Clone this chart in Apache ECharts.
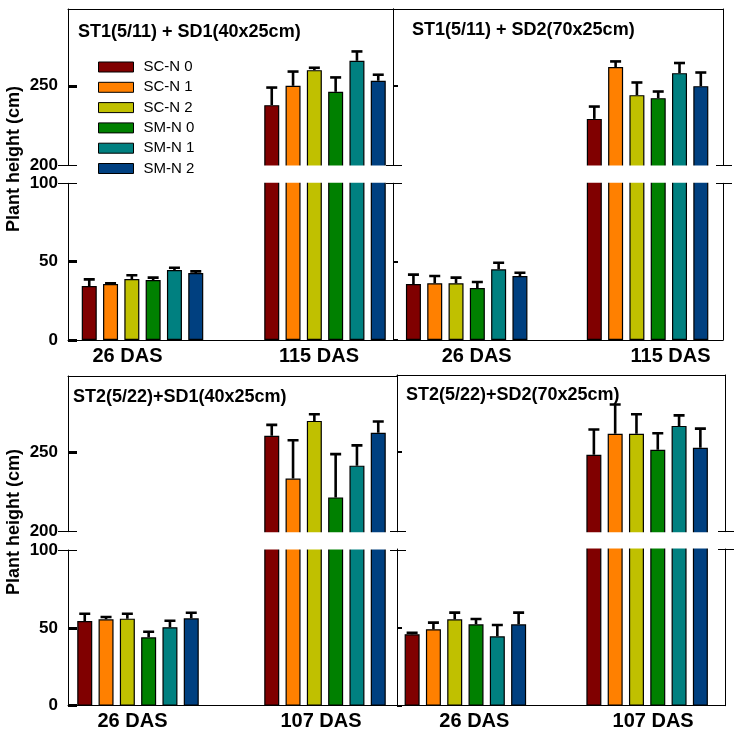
<!DOCTYPE html>
<html>
<head>
<meta charset="utf-8">
<script src="https://cdn.jsdelivr.net/npm/echarts@6/dist/echarts.min.js"></script>
<style>
html,body{margin:0;padding:0;background:#fff;}
#chart{width:738px;height:737px;}
</style>
</head>
<body>
<div id="chart"></div>
<script>
// ---------- data ----------
const seriesNames = ['SC-N 0', 'SC-N 1', 'SC-N 2', 'SM-N 0', 'SM-N 1', 'SM-N 2'];
const panelTitles = ['ST1(5/11) + SD1(40x25cm)', 'ST1(5/11) + SD2(70x25cm)', 'ST2(5/22)+SD1(40x25cm)', 'ST2(5/22)+SD2(70x25cm)'];
const categoriesST1 = ['26 DAS', '115 DAS'];
const categoriesST2 = ['26 DAS', '107 DAS'];
const upperTicks = [200, 250];
const lowerTicks = [0, 50, 100];
const yTitle = 'Plant height (cm)';

const st1sd1Early    = [34.5, 35.7, 38.9, 38.3, 44.7, 42.8];
const st1sd1EarlyErr = [4.2, 0.5, 2.4, 1.5, 1.4, 1.0];
const st1sd1Late     = [237.8, 250.0, 259.9, 246.2, 265.8, 253.2];
const st1sd1LateErr  = [11.1, 9.0, 1.5, 9.1, 5.9, 3.8];

const st1sd2Early    = [35.7, 36.2, 36.2, 33.2, 45.1, 40.8];
const st1sd2EarlyErr = [6.0, 4.6, 3.6, 3.8, 4.2, 2.1];
const st1sd2Late     = [229.1, 261.8, 244.1, 242.2, 258.0, 249.8];
const st1sd2LateErr  = [7.8, 3.6, 8.0, 4.2, 6.4, 8.6];

const st2sd1Early    = [54.4, 55.5, 55.9, 43.9, 50.4, 56.1];
const st2sd1EarlyErr = [4.7, 1.5, 3.2, 3.6, 4.2, 3.6];
const st2sd1Late     = [260.7, 233.6, 270.1, 221.7, 241.8, 262.6];
const st2sd1LateErr  = [6.9, 24.3, 4.2, 27.4, 12.8, 7.1];

const st2sd2Early    = [45.6, 48.8, 55.1, 51.9, 44.3, 51.9];
const st2sd2EarlyErr = [1.0, 4.2, 4.3, 3.4, 7.2, 7.5];
const st2sd2Late     = [248.4, 261.5, 261.5, 251.5, 266.5, 252.7];
const st2sd2LateErr  = [15.8, 18.5, 12.3, 10.4, 6.6, 12.1];

// ---------- styles / layout ----------
const colors = ['#800000', '#FF8000', '#C0C000', '#008000', '#008080', '#004080'];
const FONT = '"Liberation Sans", Arial, sans-serif';
const UPPER_MAX = 298.5;
const BAR_W = 15, BAR_GAP = 0.42;
const BAR_STEP = BAR_W * (1 + BAR_GAP);
const EXT = 3; // px that bar grids reach into the break gap (hidden under the gap mask)

const panelData = [
  {cats: categoriesST1, early: st1sd1Early, earlyErr: st1sd1EarlyErr, late: st1sd1Late, lateErr: st1sd1LateErr},
  {cats: categoriesST1, early: st1sd2Early, earlyErr: st1sd2EarlyErr, late: st1sd2Late, lateErr: st1sd2LateErr},
  {cats: categoriesST2, early: st2sd1Early, earlyErr: st2sd1EarlyErr, late: st2sd1Late, lateErr: st2sd1LateErr},
  {cats: categoriesST2, early: st2sd2Early, earlyErr: st2sd2EarlyErr, late: st2sd2Late, lateErr: st2sd2LateErr}
];
const layout = [
  {L: 68,  R: 393, top: 9,   uBot: 165,   lTop: 183.3, bot: 340,   g1: 74.5, g2: 257,   shift: [-15, -6],  tl: 78,  tt: 23.5, col: 0},
  {L: 393, R: 723, top: 9,   uBot: 165,   lTop: 183.3, bot: 340,   g1: 75,   g2: 258.5, shift: [10, 23],   tl: 412, tt: 21.5, col: 1},
  {L: 68,  R: 397, top: 376, uBot: 531.7, lTop: 550,   bot: 705.7, g1: 70,   g2: 257,   shift: [-5.5, -4], tl: 73,  tt: 388.5, col: 0},
  {L: 397, R: 725, top: 375, uBot: 531.7, lTop: 549,   bot: 705.7, g1: 71,   g2: 258,   shift: [9, 6],     tl: 406, tt: 386, col: 1}
];

function renderErr(params, api) {
  const v = api.value(1), e = api.value(2), s = api.value(3);
  const base = api.coord([api.value(0), v]);
  const tip = api.coord([api.value(0), v + e]);
  const x = base[0] + (s - 2.5) * BAR_STEP;
  const st = {stroke: '#000', lineWidth: 2.6};
  return {type: 'group', children: [
    {type: 'line', shape: {x1: x, y1: base[1], x2: x, y2: tip[1]}, style: st},
    {type: 'line', shape: {x1: x - 5.5, y1: tip[1], x2: x + 5.5, y2: tip[1]}, style: st}
  ]};
}

const option = {
  animation: false,
  backgroundColor: '#fff',
  title: [], grid: [], xAxis: [], yAxis: [], series: [],
  legend: {
    data: seriesNames, orient: 'vertical', left: 98, top: 59.5, padding: 0, z: 20,
    itemWidth: 35, itemHeight: 10, itemGap: 5.3, icon: 'rect', selectedMode: false,
    itemStyle: {borderColor: '#000', borderWidth: 1},
    textStyle: {fontFamily: FONT, fontSize: 15, color: '#000', padding: [0, 0, 0, 5]}
  },
  graphic: []
};

const lineStyle = {color: '#000', width: 1};

layout.forEach((pl, p) => {
  const d = panelData[p];
  option.title.push({text: panelTitles[p], left: pl.tl, top: pl.tt, padding: 0, z: 20,
    textStyle: {fontFamily: FONT, fontSize: 18, fontWeight: 'bold', color: '#000'}});
  // white mask over the break gap (hides clipped bar edges)
  option.graphic.push({type: 'rect', z: 5, silent: true,
    shape: {x: pl.L + 1, y: pl.uBot + 0.5, width: pl.R - pl.L - 2, height: pl.lTop - pl.uBot - 1},
    style: {fill: '#fff'}});
  [0, 1].forEach(seg => {
    const upper = seg === 0;
    const top = upper ? pl.top : pl.lTop;
    const h = (upper ? pl.uBot : pl.bot) - top;
    const ymin = upper ? 200 : 0, ymax = upper ? UPPER_MAX : 100;

    // frame grid
    const fg = option.grid.length;
    option.grid.push({left: pl.L, top: top, width: pl.R - pl.L, height: h});
    option.xAxis.push({gridIndex: fg, type: 'value', min: 0, max: 1, position: upper ? 'top' : 'bottom', z: 10,
      axisLine: {show: true, onZero: false, lineStyle}, axisTick: {show: false}, axisLabel: {show: false}, splitLine: {show: false}});
    // main left axis
    option.yAxis.push({gridIndex: fg, type: 'value', min: ymin, max: ymax, interval: 50, position: 'left', z: 10,
      axisLine: {show: true, lineStyle},
      axisTick: {show: true, inside: true, length: pl.col === 0 ? 9 : 5,
        lineStyle: {color: '#000', width: pl.col === 0 ? 3 : 2}, customValues: upper ? [250] : [0, 50]},
      axisLabel: {show: pl.col === 0, customValues: upper ? upperTicks : lowerTicks, margin: 10,
        fontFamily: FONT, fontSize: 17, fontWeight: 'bold', color: '#000'},
      splitLine: {show: false}});
    // left break mark
    if (pl.col === 0) {
      option.yAxis.push({gridIndex: fg, type: 'value', min: ymin, max: ymax, position: 'left', offset: -9, z: 10,
        axisLine: {show: false}, axisLabel: {show: false}, splitLine: {show: false},
        axisTick: {show: true, length: 19, lineStyle: {color: '#000', width: 1}, customValues: [upper ? 200 : 100]}});
    }
    // right frame
    option.yAxis.push({gridIndex: fg, type: 'value', min: ymin, max: ymax, position: 'right', z: 10,
      axisLine: {show: true, lineStyle}, axisTick: {show: false}, axisLabel: {show: false}, splitLine: {show: false}});
    // right break mark
    option.yAxis.push({gridIndex: fg, type: 'value', min: ymin, max: ymax, position: 'right', offset: -7, z: 10,
      axisLine: {show: false}, axisLabel: {show: false}, splitLine: {show: false},
      axisTick: {show: true, length: 16, lineStyle: {color: '#000', width: 1}, customValues: [upper ? 200 : 100]}});

    // bar grid (reaches EXT px into the gap, scale unchanged)
    const cw = pl.g2 - pl.g1;
    const perPx = (ymax - ymin) / h;
    const bg = option.grid.length;
    option.grid.push({left: pl.L + pl.g1 - cw / 2, top: upper ? top : top - EXT, width: cw * 2, height: h + EXT});
    const pad = s => s >= 0 ? [0, 0, 0, 2 * s] : [0, -2 * s, 0, 0];
    const labStyle = {fontFamily: FONT, fontSize: 20, fontWeight: 'bold', color: '#000'};
    const bx = option.xAxis.length;
    option.xAxis.push({gridIndex: bg, type: 'category', data: d.cats,
      axisLine: {show: false}, axisTick: {show: false}, splitLine: {show: false},
      axisLabel: {show: !upper, margin: 6, interval: 0,
        formatter: (v, idx) => '{l' + idx + '|' + v + '}',
        rich: {l0: Object.assign({padding: pad(pl.shift[0])}, labStyle), l1: Object.assign({padding: pad(pl.shift[1])}, labStyle)},
        ...labStyle}});
    const by = option.yAxis.length;
    option.yAxis.push({gridIndex: bg, type: 'value', show: false, splitLine: {show: false},
      min: upper ? ymin - EXT * perPx : ymin, max: upper ? ymax : ymax + EXT * perPx});

    seriesNames.forEach((name, i) => {
      option.series.push({type: 'bar', name: name, xAxisIndex: bx, yAxisIndex: by,
        barWidth: BAR_W, barGap: (BAR_GAP * 100) + '%', clip: true,
        itemStyle: {color: colors[i], borderColor: '#000', borderWidth: 1.2},
        data: upper ? ['-', d.late[i]] : [d.early[i], d.late[i]]});
    });
    const errData = seriesNames.map((n, i) => upper ? [1, d.late[i], d.lateErr[i], i] : [0, d.early[i], d.earlyErr[i], i]);
    option.series.push({type: 'custom', xAxisIndex: bx, yAxisIndex: by, renderItem: renderErr, clip: true, z: 3,
      encode: {x: 0, y: 1}, data: errData});
  });
});

// y axis titles
[[14, 159], [14, 522]].forEach(pos => {
  option.graphic.push({type: 'text', x: pos[0], y: pos[1], rotation: Math.PI / 2, z: 20,
    style: {text: yTitle, font: 'bold 18px ' + FONT, fill: '#000', textAlign: 'center', textVerticalAlign: 'middle'}});
});

const chart = echarts.init(document.getElementById('chart'), null, {renderer: 'canvas'});
chart.setOption(option);
</script>
</body>
</html>
